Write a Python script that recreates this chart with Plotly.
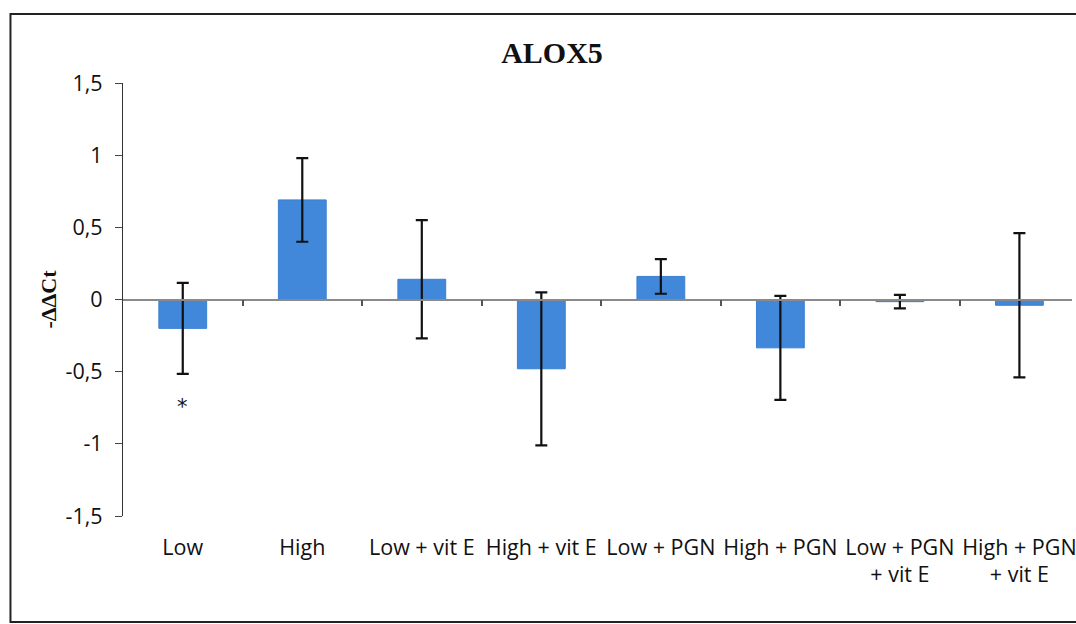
import plotly.graph_objects as go

# Relative ALOX5 expression (-ΔΔCt) per treatment group, mean ± SD
groups = ["Low", "High", "Low + vit E", "High + vit E", "Low + PGN",
          "High + PGN", "Low + PGN<br>+ vit E", "High + PGN<br>+ vit E"]
neg_ddct = [-0.20, 0.69, 0.14, -0.48, 0.16, -0.335, -0.015, -0.04]
sd = [0.315, 0.29, 0.41, 0.53, 0.12, 0.36, 0.047, 0.50]
significance = ["*", "", "", "", "", "", "", ""]

y_ticks = [-1.5, -1.0, -0.5, 0.0, 0.5, 1.0, 1.5]
y_tick_text = ["-1,5", "-1", "-0,5", "0", "0,5", "1", "1,5"]

BAR_BLUE = "#4288DA"
LABEL_FONT = dict(family="Open Sans", size=21.5, color="#111111")

fig = go.Figure()

fig.add_trace(go.Bar(
    x=groups,
    y=neg_ddct,
    width=0.4,
    marker=dict(color=BAR_BLUE, line=dict(color="#3a7fd0", width=1)),
    error_y=dict(type="data", array=sd, visible=True,
                 color="#111111", thickness=2.2, width=6),
    showlegend=False,
    hoverinfo="skip",
))

# empty trace so the zero-level category axis (with boundary ticks) is drawn
fig.add_trace(go.Scatter(x=[], y=[], xaxis="x2", yaxis="y",
                         showlegend=False, hoverinfo="skip"))

# significance markers below the lower whisker
for g, m, s, mark in zip(groups, neg_ddct, sd, significance):
    if mark:
        fig.add_annotation(x=g, y=m - s - 0.23, text=mark, showarrow=False,
                           font=dict(family="DejaVu Sans", size=21, color="#111"))

n = len(groups)
x_range = [-0.5, n - 0.56]

fig.update_layout(
    width=1076,
    height=624,
    margin=dict(l=123, r=0, t=83, b=108),
    paper_bgcolor="white",
    plot_bgcolor="white",
    separators=",.",
    title=dict(
        text="ALOX5",
        x=552 / 1076, xref="container", xanchor="center",
        y=1 - 52 / 624, yref="container", yanchor="middle",
        font=dict(family="Liberation Serif", size=30, color="#111", weight="bold"),
    ),
    xaxis=dict(
        type="category",
        range=x_range,
        showline=False,
        showgrid=False,
        zeroline=False,
        ticks="",
        tickfont=LABEL_FONT,
        ticklabelstandoff=16,
    ),
    xaxis2=dict(
        type="linear",
        overlaying="x",
        anchor="free",
        position=0.5,
        range=x_range,
        tickvals=[i + 0.5 for i in range(n)],
        ticks="outside",
        ticklen=6,
        tickwidth=1.5,
        tickcolor="#555",
        showticklabels=False,
        showline=True,
        linecolor="#8a8a8a",
        linewidth=1.8,
        showgrid=False,
        zeroline=False,
    ),
    yaxis=dict(
        range=[-1.5, 1.5],
        tickvals=y_ticks,
        ticktext=y_tick_text,
        ticks="outside",
        ticklen=7,
        tickcolor="#444",
        showline=True,
        linecolor="#333",
        linewidth=1.2,
        showgrid=False,
        zeroline=False,
        tickfont=LABEL_FONT,
        ticklabelstandoff=8,
        title=dict(
            text="-ΔΔCt",
            standoff=2,
            font=dict(family="Liberation Serif", size=22, color="#111", weight="bold"),
        ),
    ),
    # chart frame
    shapes=[dict(
        type="rect", xref="paper", yref="paper",
        x0=(10 - 123) / 953, x1=1.05,
        y0=(516 - 622) / 433, y1=(516 - 14) / 433,
        line=dict(color="#222", width=2),
        fillcolor="rgba(0,0,0,0)",
        layer="below",
    )],
)

fig.write_html("out.html")
